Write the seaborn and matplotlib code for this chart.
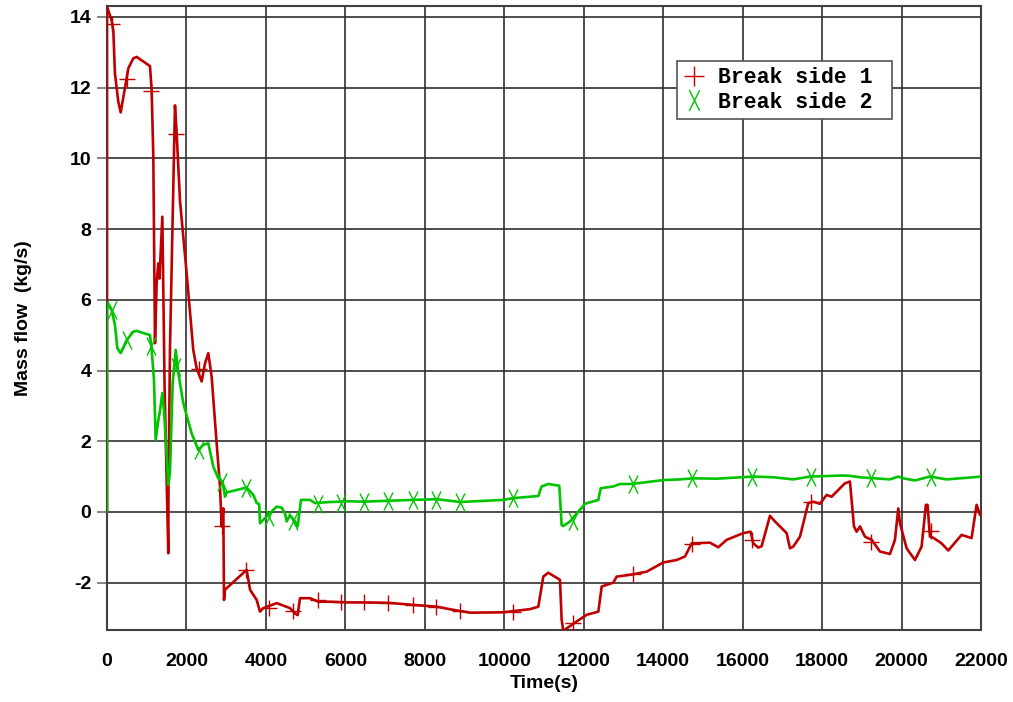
import numpy as np
import pandas as pd
import matplotlib
matplotlib.use("Agg")
import matplotlib.pyplot as plt
from matplotlib.lines import Line2D
from matplotlib.path import Path
import seaborn as sns

# ---- data ----
red_t = [0, 0, 118, 160, 200, 285, 345, 453, 537, 663, 747, 915, 1082, 1124, 1166, 1208, 1250, 1292, 1320,
         1393, 1450, 1500, 1543, 1548, 1585, 1711, 1754, 1837, 2005, 2172, 2257, 2383, 2467, 2550, 2634, 2760,
         2844, 2886, 2928, 2945, 2970, 3516, 3600, 3768, 3851, 3935, 4271, 4606, 4732, 4800, 4858, 5110, 5319,
         5613, 6116, 6452, 7080, 7710, 8297, 8717, 9137, 9976, 10647, 10857, 10982, 11108, 11402, 11444, 11486,
         11822, 12074, 12368, 12452, 12745, 12829, 13164, 13584, 14003, 14339, 14549, 14717, 15177, 15387, 15597,
         16016, 16201, 16268, 16394, 16478, 16688, 16814, 17108, 17191, 17275, 17443, 17652, 17778, 17946, 18114,
         18240, 18575, 18701, 18802, 18869, 18953, 19079, 19247, 19457, 19708, 19834, 19918, 19960, 20128, 20338,
         20505, 20613, 20655, 20714, 20797, 21008, 21176, 21511, 21763, 21889, 21973, 22000]
red_y = [0, 14.3, 13.9, 13.6, 12.4, 11.6, 11.3, 12.0, 12.55, 12.83, 12.87, 12.74, 12.61, 11.93, 10.05, 4.77, 6.47,
         7.03, 6.6, 8.35, 3.5, 1.0, -1.17, 0.7, 4.6, 11.5, 10.7, 8.8, 6.75, 4.58, 4.06, 3.69, 4.2, 4.49, 3.83, 1.94,
         0.72, -0.41, 0.1, -2.49, -2.2, -1.64, -2.2, -2.49, -2.82, -2.72, -2.58, -2.72, -2.87, -2.92, -2.44, -2.44,
         -2.54, -2.54, -2.56, -2.56, -2.57, -2.63, -2.68, -2.77, -2.85, -2.84, -2.75, -2.68, -1.83, -1.72, -1.92,
         -3.05, -3.36, -3.1, -2.91, -2.82, -2.11, -2.0, -1.83, -1.78, -1.69, -1.43, -1.36, -1.26, -0.89, -0.87,
         -1.0, -0.79, -0.6, -0.56, -0.89, -1.01, -0.97, -0.11, -0.27, -0.6, -1.03, -0.98, -0.7, 0.25, 0.29, 0.23,
         0.48, 0.43, 0.81, 0.86, -0.41, -0.56, -0.41, -0.7, -0.79, -1.12, -1.19, -0.79, 0.1, -0.32, -1.03, -1.36,
         -0.98, 0.2, 0.2, -0.7, -0.73, -0.89, -1.09, -0.65, -0.74, 0.2, -0.08, -0.1]

green_t = [0, 0, 118, 200, 260, 345, 495, 663, 747, 1082, 1124, 1183, 1225, 1292, 1334, 1393, 1435, 1485, 1543,
           1585, 1653, 1729, 1796, 1922, 2131, 2299, 2425, 2550, 2676, 2802, 2911, 2970, 3012, 3516, 3684, 3768,
           3830, 3851, 4019, 4187, 4271, 4400, 4480, 4522, 4606, 4732, 4799, 4883, 5110, 5236, 5613, 6116, 6452,
           7710, 8297, 8885, 9976, 10228, 10857, 10940, 11108, 11385, 11444, 11486, 11654, 11905, 12031, 12368,
           12427, 12745, 12913, 13206, 14003, 14423, 14759, 15345, 16268, 16772, 17275, 17694, 18533, 18701, 18953,
           19708, 19918, 20044, 20338, 20714, 21134, 21805, 22000]
green_y = [0, 5.9, 5.71, 5.29, 4.63, 4.49, 4.86, 5.1, 5.12, 5.0, 4.58, 3.73, 2.04, 2.6, 2.86, 3.36, 2.86, 1.94,
           0.76, 1.1, 3.64, 4.58, 3.92, 3.07, 2.22, 1.75, 1.9, 1.94, 1.28, 0.95, 0.85, 0.43, 0.55, 0.69, 0.48,
           0.25, 0.22, -0.32, -0.13, 0.06, 0.15, 0.12, -0.04, -0.27, -0.09, -0.27, -0.41, 0.34, 0.34, 0.25, 0.28,
           0.3, 0.29, 0.34, 0.36, 0.28, 0.34, 0.39, 0.45, 0.72, 0.79, 0.74, -0.37, -0.4, -0.27, 0.06, 0.23, 0.34,
           0.67, 0.72, 0.79, 0.79, 0.9, 0.92, 0.95, 0.94, 1.0, 0.98, 0.92, 1.0, 1.03, 1.02, 0.98, 0.92, 1.0, 0.95,
           0.89, 1.0, 0.92, 0.98, 1.0]

mark_t = [118, 495, 1110, 1730, 2310, 2886, 3510, 4075, 4690, 5300, 5885, 6476, 7080, 7693, 8280, 8885,
          10211, 11721, 13231, 14717, 16240, 17719, 19222, 20731]
red_mark_y = [13.8, 12.25, 11.9, 10.7, 4.05, -0.41, -1.64, -2.72, -2.8, -2.5, -2.55, -2.56, -2.57, -2.63,
              -2.68, -2.8, -2.82, -3.15, -1.77, -0.9, -0.8, 0.27, -0.84, -0.55]
green_mark_y = [5.7, 4.86, 4.7, 4.1, 1.75, 0.86, 0.69, -0.13, -0.27, 0.23, 0.26, 0.29, 0.31, 0.34, 0.35,
                0.27, 0.38, -0.25, 0.8, 0.95, 0.98, 1.0, 0.97, 1.0]

x_ticks = list(range(0, 22001, 2000))
y_ticks = list(range(-2, 15, 2))
labels = ["Break side 1", "Break side 2"]

RED = "#C00000"
GREEN = "#00C400"

sns.set_theme(style="white")
plt.rcParams["font.family"] = ["Liberation Sans", "DejaVu Sans"]
plt.rcParams["text.color"] = "black"
plt.rcParams["axes.labelcolor"] = "black"

fig = plt.figure(figsize=(10.13, 7.02), dpi=100)
ax = fig.add_axes([107 / 1013, 72 / 702, 874 / 1013, 624 / 702])

df_r = pd.DataFrame({"t": red_t, "y": red_y})
df_g = pd.DataFrame({"t": green_t, "y": green_y})

sns.lineplot(data=df_r, x="t", y="y", ax=ax, color=RED, lw=1.9, estimator=None, sort=False, zorder=3)
sns.lineplot(data=df_g, x="t", y="y", ax=ax, color=GREEN, lw=1.9, estimator=None, sort=False, zorder=4)

xnarrow = Path([(-0.5, -1), (0.5, 1), (-0.5, 1), (0.5, -1)],
               [Path.MOVETO, Path.LINETO, Path.MOVETO, Path.LINETO])

ax.plot(mark_t, red_mark_y, linestyle="none", marker="+", markersize=11, mew=1.0, color=RED, zorder=5)
ax.plot(mark_t, green_mark_y, linestyle="none", marker=xnarrow, markersize=13, mew=1.0, color=GREEN, zorder=5)

ax.set_xlim(0, 22000)
ax.set_ylim(-3.34, 14.31)
ax.set_xticks(x_ticks)
ax.set_yticks(y_ticks)
ax.set_xticklabels([str(v) for v in x_ticks])
ax.set_yticklabels([str(v) for v in y_ticks])
ax.tick_params(axis="both", labelsize=14, labelcolor="black")
ax.tick_params(axis="x", length=0, pad=16.5)
ax.tick_params(axis="y", left=True, length=7.2, width=1.2, color="#707070", pad=4)
for lab in ax.get_xticklabels() + ax.get_yticklabels():
    lab.set_fontweight("bold")

ax.grid(True, color="#303030", lw=1.2)
for s in ax.spines.values():
    s.set_color("#404040")
    s.set_linewidth(1.5)
    s.set_visible(True)

ax.set_xlabel("Time(s)", fontsize=14, fontweight="bold", color="black")
ax.set_ylabel("Mass flow  (kg/s)", fontsize=14, fontweight="bold", color="black")
ax.xaxis.set_label_coords(0.5, (630 - 675) / 624)
ax.yaxis.set_label_coords((32 - 107) / 874, 0.5)

handles = [Line2D([], [], linestyle="none", marker="+", markersize=14, mew=1.0, color=RED),
           Line2D([], [], linestyle="none", marker=xnarrow, markersize=15, mew=1.0, color=GREEN)]
leg = ax.legend(handles, labels, loc="upper left",
                bbox_to_anchor=(0.652, 0.912, 215 / 874, 0.0), mode="expand",
                prop={"family": ["Liberation Mono", "DejaVu Sans Mono"], "weight": "bold", "size": 15.5},
                frameon=True, fancybox=False, shadow=False, framealpha=1, edgecolor="#555555",
                borderpad=0.3, labelspacing=0.15, handlelength=1.0, handletextpad=0.6, borderaxespad=0)
leg.get_frame().set_linewidth(1.2)
for txt in leg.get_texts():
    txt.set_color("black")

fig.savefig("out.png", dpi=100, facecolor="white")
